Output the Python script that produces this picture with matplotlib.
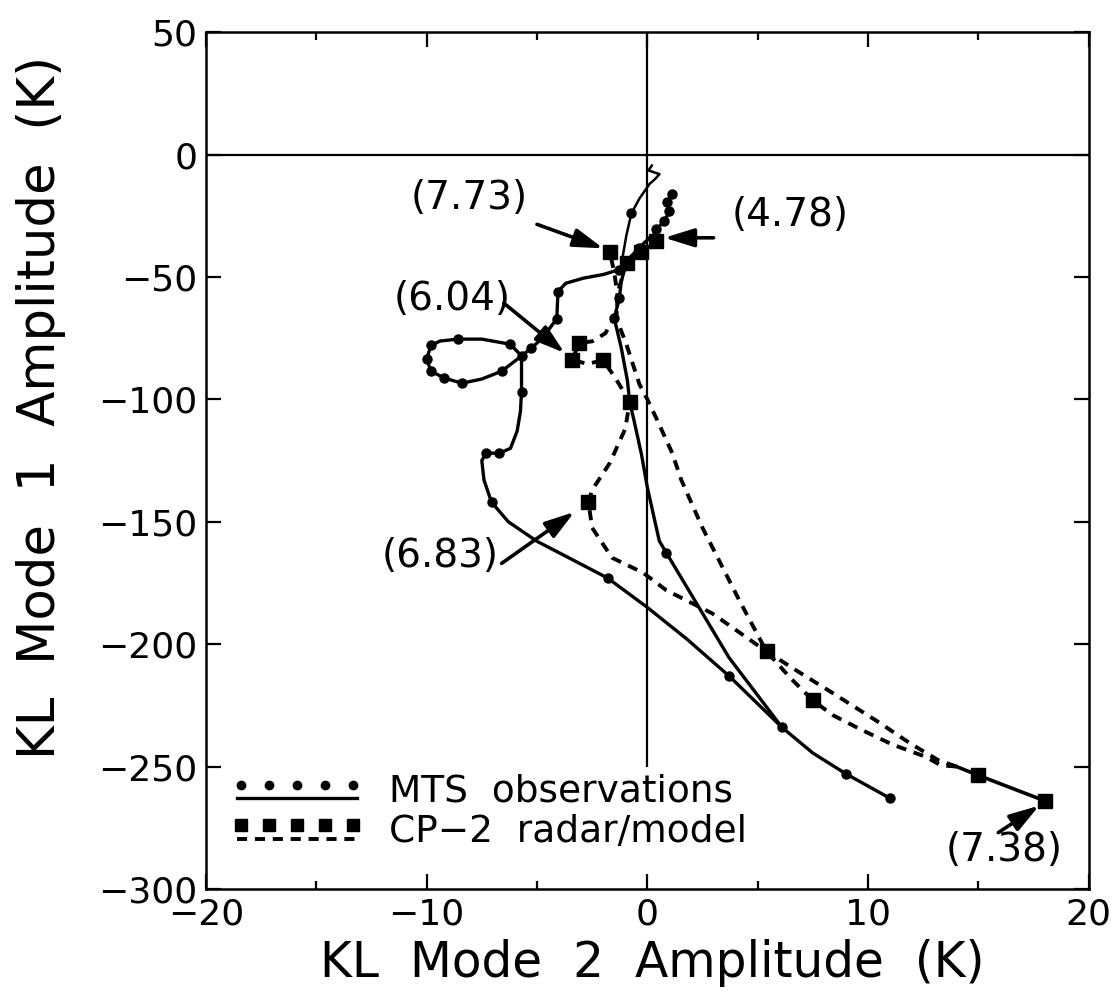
import numpy as np
import matplotlib.pyplot as plt
from matplotlib.legend_handler import HandlerBase
from matplotlib.lines import Line2D

# MTS observations, main trajectory: late end point -> lower arc -> loop -> cluster -> spur
mts_x = [11.0, 9.0, 7.5, 6.1, 3.7, 1.8, 0.0, -1.8, -3.5, -5.0, -6.3, -7.06, -7.4, -7.5,
         -7.3, -6.7, -6.2, -5.9, -5.75, -5.7, -5.7, -5.7, -6.2, -7.5, -8.6, -9.4, -9.8,
         -10.0, -9.8, -9.2, -8.4, -7.5, -6.6, -5.7, -5.25, -4.75, -4.1, -4.05, -3.7, -2.9,
         -2.0, -1.27, -0.95, -0.36, 0.1, 0.4, 0.4, 0.77, 1.0, 0.9, 1.13]
mts_y = [-263, -253, -244.5, -234, -213, -198, -185, -173, -165, -158, -150, -142, -133, -125,
         -122, -122, -120, -113, -105, -97, -90, -82.3, -77.5, -75.4, -75.4, -76.2, -78,
         -83.5, -88.5, -91.3, -93.4, -91.7, -88.5, -82.3, -79, -75, -67, -56, -52.6, -50.5,
         -49, -47, -43.6, -38, -34, -32, -30.6, -27.3, -23.2, -19.2, -16.3]

# thin segment from the cluster up to the squiggle under the zero line
mts_top_x = [-1.13, -0.95, -0.72, -0.36, 0.1, 0.35, 0.55, 0.05, 0.2]
mts_top_y = [-42.4, -33, -24, -18, -12, -10, -8, -6.5, -4.5]

# steep branch from the cluster down to the lower arc
mts_b_x = [-1.0, -1.18, -1.27, -1.5, -1.18, -0.9, -0.8, -0.6, -0.27, 0.0, 0.54, 0.86, 3.7, 6.1]
mts_b_y = [-46, -51.8, -58.7, -66.9, -79, -92.5, -101, -108.8, -122.3, -136, -157.8, -162.7,
           -205.5, -234]

# observation times marked with dots
mts_dot_x = [11.0, 9.0, 6.1, 3.7, -1.8, -7.06, -7.3, -6.7, -5.7, -5.7, -6.2, -8.6, -9.8, -10.0,
             -9.8, -9.2, -8.4, -6.6, -5.25, -4.1, -4.05, -1.27, -0.95, -0.36, 0.4, 0.77, 1.0,
             0.9, 1.13, -0.72, -1.27, -1.5, 0.86]
mts_dot_y = [-263, -253, -234, -213, -173, -142, -122, -122, -97, -82.3, -77.5, -75.4, -78, -83.5,
             -88.5, -91.3, -93.4, -88.5, -79, -67, -56, -47, -43.6, -38, -30.6, -27.3, -23.2,
             -19.2, -16.3, -24, -58.7, -66.9, -162.7]

# CP-2 radar/model: 4.78 -> 6.04 -> 6.83 -> 7.38
cp2_x = [0.5, -0.4, -1.0, -1.3, -1.4, -1.9, -2.5, -3.1, -3.4, -2.7, -2.0, -1.4, -0.8, -1.0,
         -1.7, -2.5, -2.67, -2.5, -1.6, -0.2, 0.86, 2.95, 5.4, 6.9, 8.4, 10.5, 11.9, 13.2, 14.0]
cp2_y = [-36, -41, -46, -55, -65, -73, -76.3, -77, -84, -85.5, -84, -92, -101, -112,
         -126, -137, -142, -152.5, -164.7, -170.8, -178, -187.5, -203, -211.6, -220, -232,
         -240.5, -247.5, -250]
cp2_tail_x = [14.0, 15.0, 18.0]
cp2_tail_y = [-250, -253.6, -264]
# 7.38 -> 7.73
cp2_ret_x = [14.0, 13.3, 12.6, 11.1, 9.7, 8.4, 7.5, 6.5, 5.4, 4.16, 3.26, 2.5, 1.54, 1.13, 0.4,
             0.0, -0.36, -0.95, -1.4, -1.36, -1.5, -1.7]
cp2_ret_y = [-250, -249.5, -246, -241, -235, -229, -223, -214, -203, -182, -166, -152.5, -133,
             -122, -107.6, -100, -93.8, -77.5, -67, -57, -48, -40]
cp2_sq_x = [0.4, -0.3, -0.9, -1.7, -3.1, -3.4, -2.0, -0.8, -2.67, 5.4, 7.5, 15.0, 18.0]
cp2_sq_y = [-35.5, -40, -44.5, -40, -77, -84, -84, -101, -142, -203, -223, -253.6, -264]

# time labels and their arrows
time_labels = ["(7.73)", "(4.78)", "(6.04)", "(6.83)", "(7.38)"]
label_x = [-8.05, 6.45, -8.85, -9.4, 16.15]
label_y = [-17.9, -24.5, -59, -164, -284]
tail_x = [-5.0, 3.0, -6.5, -6.6, 15.9]
tail_y = [-28.5, -34, -60.7, -167, -277]
head_x = [-2.0, 0.77, -3.75, -3.3, 17.75]
head_y = [-38.3, -34, -81, -146, -266]

x_ticks = [-20, -10, 0, 10, 20]
y_ticks = [-300, -250, -200, -150, -100, -50, 0, 50]


class StackedHandler(HandlerBase):
    """Legend key with a row of markers sitting above the line style."""

    def __init__(self, marker, ms, ls, lw):
        super().__init__()
        self.marker, self.ms, self.ls, self.lw = marker, ms, ls, lw

    def create_artists(self, legend, orig_handle, xdescent, ydescent,
                       width, height, fontsize, trans):
        x0, x1 = -xdescent, width - xdescent
        yc = height / 2 - ydescent
        xs = np.linspace(x0 + 3, x1 - 3, 5)
        pts = Line2D(xs, np.full(5, yc + 3), ls='none', marker=self.marker,
                     ms=self.ms, color='k', transform=trans)
        ln = Line2D([x0, x1], [yc - 7, yc - 7], ls=self.ls, lw=self.lw,
                    color='k', transform=trans)
        return [ln, pts]


plt.rcParams['font.family'] = ['DejaVu Sans']

fig = plt.figure(figsize=(11.19, 10.05), dpi=100)
ax = fig.add_axes([0.184, 0.1155, 0.789, 0.8525])

ax.axhline(0, color='k', lw=1.6, zorder=1)
ax.vlines(0, -250, 50, color='k', lw=1.6, zorder=1)

dash = (0, (2.6, 2.0))
mts_line, = ax.plot(mts_x, mts_y, 'k-', lw=2.4)
ax.plot(mts_top_x, mts_top_y, 'k-', lw=1.8)
ax.plot(mts_b_x, mts_b_y, 'k-', lw=2.4)
ax.plot(mts_dot_x, mts_dot_y, 'ko', ms=6.5, ls='none')

cp2_line, = ax.plot(cp2_x, cp2_y, color='k', ls=dash, lw=2.8)
ax.plot(cp2_ret_x, cp2_ret_y, color='k', ls=dash, lw=2.8)
ax.plot(cp2_tail_x, cp2_tail_y, 'k-', lw=2.6)
ax.plot(cp2_sq_x, cp2_sq_y, 'ks', ms=10, ls='none')

for txt, lx, ly, tx, ty, hx, hy in zip(time_labels, label_x, label_y,
                                       tail_x, tail_y, head_x, head_y):
    ax.text(lx, ly, txt, fontsize=28, ha='center', va='center')
    ax.annotate('', xy=(hx, hy), xytext=(tx, ty),
                arrowprops=dict(arrowstyle='-|>,head_length=0.9,head_width=0.28',
                                mutation_scale=20, lw=2.6, color='k',
                                shrinkA=0, shrinkB=0))

ax.set_xlim(-20, 20)
ax.set_ylim(-300, 50)
ax.set_xticks(x_ticks)
ax.set_xticks([-15, -5, 5, 15], minor=True)
ax.set_yticks(y_ticks)
ax.tick_params(which='both', direction='in', top=True, right=True,
               labelsize=26, width=1.6, pad=6)
ax.tick_params(which='major', length=11)
ax.tick_params(which='minor', length=6)
for sp in ax.spines.values():
    sp.set_linewidth(1.8)

ax.set_xlabel('KL  Mode  2  Amplitude  (K)', fontsize=35)
ax.set_ylabel('KL  Mode  1  Amplitude  (K)', fontsize=37)
ax.xaxis.set_label_coords(0.505, -0.058)
ax.yaxis.set_label_coords(-0.158, 0.562)

ax.legend([mts_line, cp2_line], ['MTS  observations', 'CP\u22122  radar/model'],
          handler_map={mts_line: StackedHandler('o', 6, '-', 2.4),
                       cp2_line: StackedHandler('s', 9, dash, 2.8)},
          loc='lower left', bbox_to_anchor=(0.035, 0.045), frameon=False,
          fontsize=27, handlelength=3.2, handletextpad=0.85, labelspacing=0.12,
          borderpad=0, borderaxespad=0)

fig.savefig('out.png', dpi=100)
